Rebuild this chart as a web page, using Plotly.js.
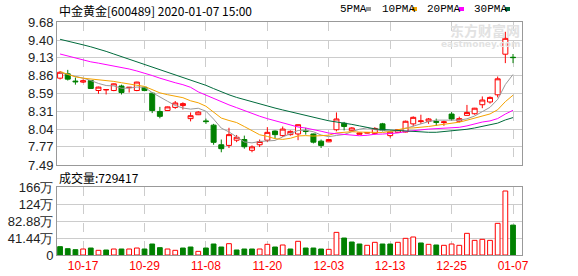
<!DOCTYPE html>
<html>
<head>
<meta charset="utf-8">
<script src="https://cdn.plot.ly/plotly-3.0.1.min.js"></script>
<style>html,body{margin:0;padding:0;background:#fff;}#chart{width:578px;height:276px;}</style>
</head>
<body>
<div id="chart"></div>
<script>
// ---- data ----
const dates = ["10-14","10-15","10-16","10-17","10-18","10-21","10-22","10-23","10-24","10-25",
"10-28","10-29","10-30","10-31","11-01","11-04","11-05","11-06","11-07","11-08",
"11-11","11-12","11-13","11-14","11-15","11-18","11-19","11-20","11-21","11-22",
"11-25","11-26","11-27","11-28","11-29","12-03","12-04","12-05","12-06","12-09",
"12-10","12-11","12-12","12-13","12-16","12-17","12-18","12-19","12-20","12-23",
"12-24","12-25","12-26","12-27","12-30","12-31","01-02","01-03","01-06","01-07"];
const tickDates = ["10-17","10-29","11-08","11-20","12-03","12-13","12-25","01-07"];

const open = [8.82,8.886,8.775,8.76,8.784,8.631,8.64,8.631,8.70,8.675,
8.631,8.68,8.59,8.31,8.325,8.372,8.40,8.20,8.26,8.165,
8.10,7.80,7.79,7.87,7.88,7.715,7.80,7.87,8.01,7.94,
7.955,7.965,8.015,7.965,7.855,7.845,8.03,8.13,8.015,7.96,
7.98,7.975,8.12,7.94,7.99,7.995,8.12,8.155,8.16,8.155,
8.14,8.27,8.16,8.25,8.275,8.413,8.455,8.565,9.187,9.14];
const high = [8.93,8.947,8.83,8.80,8.79,8.69,8.645,8.74,8.72,8.685,
8.765,8.69,8.60,8.38,8.385,8.47,8.45,8.295,8.315,8.20,
8.12,7.88,8.06,7.95,7.94,7.79,7.88,8.07,8.02,8.08,
8.02,8.11,8.06,7.97,7.88,7.885,8.295,8.15,8.07,7.985,
7.99,8.07,8.135,8.005,8.04,8.17,8.235,8.26,8.21,8.20,
8.17,8.30,8.23,8.41,8.365,8.54,8.54,8.845,9.53,9.19];
const low = [8.80,8.784,8.72,8.745,8.66,8.58,8.57,8.62,8.57,8.60,
8.62,8.62,8.285,8.205,8.32,8.35,8.34,8.158,8.255,8.12,
7.80,7.685,7.75,7.84,7.74,7.685,7.765,7.84,7.89,7.92,
7.94,7.87,7.955,7.82,7.75,7.84,8.005,8.02,8.01,7.955,
7.975,7.955,8.005,7.91,7.985,7.99,8.08,8.12,8.12,8.09,
8.09,8.17,8.14,8.25,8.26,8.36,8.43,8.525,9.05,9.05];
const close = [8.91,8.805,8.765,8.78,8.662,8.683,8.645,8.733,8.60,8.68,
8.76,8.63,8.325,8.235,8.38,8.44,8.43,8.245,8.30,8.155,
7.837,7.74,7.955,7.915,7.77,7.767,7.85,7.99,7.955,8.04,
8.005,8.107,8.005,7.84,7.79,7.88,8.195,8.08,8.057,7.98,
7.985,8.05,8.02,7.995,8.03,8.16,8.22,8.165,8.195,8.145,
8.15,8.195,8.20,8.295,8.36,8.485,8.525,8.81,9.43,9.135];

const ma5 = [8.905,8.88,8.85,8.82,8.784,8.739,8.707,8.701,8.665,8.668,
8.684,8.681,8.599,8.526,8.466,8.402,8.362,8.346,8.359,8.314,
8.193,8.055,7.997,7.920,7.843,7.829,7.851,7.858,7.866,7.920,
7.968,8.019,8.022,7.999,7.949,7.924,7.942,7.957,8.000,8.038,
8.059,8.030,8.018,8.006,8.016,8.051,8.085,8.114,8.154,8.177,
8.175,8.170,8.177,8.197,8.240,8.307,8.373,8.495,8.722,8.877];
const ma10 = [8.92,8.88,8.84,8.82,8.81,8.80,8.79,8.77,8.75,8.726,
8.711,8.694,8.650,8.595,8.567,8.543,8.521,8.473,8.443,8.390,
8.298,8.209,8.172,8.140,8.079,8.011,7.953,7.928,7.893,7.882,
7.899,7.935,7.940,7.933,7.935,7.946,7.981,7.990,8.000,7.994,
7.992,7.986,7.988,8.003,8.027,8.055,8.058,8.066,8.080,8.097,
8.113,8.128,8.146,8.176,8.209,8.241,8.272,8.336,8.460,8.559];
const ma20 = [9.19,9.16,9.125,9.10,9.07,9.05,9.03,9.01,8.99,8.96,
8.93,8.90,8.86,8.82,8.78,8.75,8.72,8.68,8.61,8.558,
8.505,8.451,8.411,8.368,8.323,8.277,8.237,8.200,8.168,8.136,
8.098,8.072,8.056,8.036,8.007,7.979,7.967,7.959,7.947,7.938,
7.945,7.961,7.964,7.968,7.981,8.001,8.019,8.028,8.040,8.045,
8.052,8.057,8.067,8.089,8.118,8.148,8.165,8.201,8.270,8.328];
const ma30 = [9.415,9.39,9.36,9.33,9.30,9.27,9.23,9.19,9.15,9.11,
9.07,9.03,8.99,8.95,8.92,8.88,8.84,8.80,8.76,8.71,
8.66,8.61,8.565,8.525,8.49,8.455,8.425,8.395,8.362,8.333,
8.303,8.279,8.254,8.223,8.194,8.167,8.152,8.130,8.112,8.089,
8.063,8.043,8.033,8.025,8.014,8.004,7.997,7.995,7.991,7.991,
8.001,8.016,8.025,8.037,8.057,8.081,8.103,8.131,8.180,8.216];

// volume in 万 (10k lots)
const volume = [20.3,15.4,13,14.6,17,11.4,12.2,14.6,14.6,14.6,
17,14.6,26.8,17.9,14.6,11.4,17,19.5,8.9,17,
26.8,19.5,27.6,12.2,14.6,14.6,14.6,26,19.5,24.4,
14.6,33.4,17,17,14.6,13.8,55.2,41.4,31.7,26.8,
23.6,30.9,26.8,26.8,30.9,40.6,43.9,29.3,26,24.4,
23.6,26.8,23.6,52.8,35.7,38.2,35.7,77.2,156,72.94];
const volUp = [0,0,0,1,0,1,0,1,0,1,
1,0,0,0,1,1,0,0,1,0,
0,0,1,0,0,0,1,1,0,1,
0,1,0,0,0,1,1,0,0,0,
1,1,0,0,1,1,1,0,1,0,
1,1,1,1,1,1,1,1,1,0];

const priceTicks = [7.49,7.77,8.04,8.31,8.59,8.86,9.13,9.40,9.68];
const volTicks = [0,41.44,82.88,124.32,165.76];
const volTickText = ["0","41.44万","82.88万","124万","166万"];
const lastVolume = "729417";

// ---- styling ----
const RED = "#ff0000", GREEN = "#008000";
const W = 578, H = 276, ML = 57, MR = 56, MT = 22, MB = 21;
const PW = W - ML - MR, PH = H - MT - MB;
const px = v => (v - ML) / PW;          // pixel x -> paper x
const py = v => (H - MB - v) / PH;      // pixel y -> paper y

const traces = [
  {type:"candlestick", x:dates, open:open, high:high, low:low, close:close,
   xaxis:"x", yaxis:"y", whiskerwidth:0, hoverinfo:"skip",
   increasing:{line:{color:RED,width:1}, fillcolor:"#ffffff"},
   decreasing:{line:{color:GREEN,width:1}, fillcolor:GREEN}},
  {type:"scatter", mode:"lines", x:dates, y:ma5, xaxis:"x", yaxis:"y", line:{color:"#999999",width:1}, hoverinfo:"skip"},
  {type:"scatter", mode:"lines", x:dates, y:ma10, xaxis:"x", yaxis:"y", line:{color:"#f5a300",width:1}, hoverinfo:"skip"},
  {type:"scatter", mode:"lines", x:dates, y:ma20, xaxis:"x", yaxis:"y", line:{color:"#ff00ff",width:1}, hoverinfo:"skip"},
  {type:"scatter", mode:"lines", x:dates, y:ma30, xaxis:"x", yaxis:"y", line:{color:"#006b3c",width:1}, hoverinfo:"skip"},
  {type:"bar", x:dates, y:volume, xaxis:"x2", yaxis:"y2", width:0.62, hoverinfo:"skip",
   marker:{color:volUp.map(u => u ? "#ffffff" : GREEN), line:{color:volUp.map(u => u ? RED : GREEN), width:1}}}
];

const xCommon = {
  type:"category", range:[-0.4, 60.17], tickmode:"array", tickvals:tickDates, ticktext:tickDates,
  showgrid:true, gridcolor:"#cccccc", griddash:"dash", gridwidth:1,
  showline:true, linecolor:"#999999", linewidth:1, mirror:true, ticks:"", zeroline:false, fixedrange:true
};
const yCommon = {
  showgrid:true, gridcolor:"#cccccc", gridwidth:1, showline:true, linecolor:"#999999", linewidth:1,
  mirror:true, ticks:"", zeroline:false, fixedrange:true,
  tickfont:{family:"Liberation Sans, Arial, sans-serif", size:13, color:"#222222"}
};

const legendItems = [
  {label:"5PMA", left:338, sq:366, color:"#999999"},
  {label:"10PMA", left:380, sq:412, color:"#f5a300"},
  {label:"20PMA", left:425, sq:459, color:"#ff00ff"},
  {label:"30PMA", left:472, sq:505, color:"#006b3c"}
];

const annotations = [
  {xref:"paper", yref:"paper", x:px(57), y:py(10), xanchor:"left", yanchor:"middle", showarrow:false,
   text:"中金黄金[600489] 2020-01-07 15:00", font:{family:"Noto Sans CJK SC", size:12, color:"#000"}},
  {xref:"paper", yref:"paper", x:px(57), y:py(177), xanchor:"left", yanchor:"middle", showarrow:false,
   text:"成交量:" + lastVolume, font:{family:"Noto Sans CJK SC", size:12, color:"#000"}},
  {xref:"paper", yref:"paper", x:px(521), y:py(30), xanchor:"right", yanchor:"middle", showarrow:false, borderpad:0,
   text:"<b>东方财富网</b>", font:{family:"Noto Sans CJK SC", size:14, color:"#e2e2e2"}},
  {xref:"paper", yref:"paper", x:px(521), y:py(44), xanchor:"right", yanchor:"middle", showarrow:false, borderpad:0,
   text:"<b>eastmoney.com</b>", font:{family:"DejaVu Sans", size:9, color:"#e2e2e2"}}
];
const shapes = [];
legendItems.forEach(it => {
  annotations.push({xref:"paper", yref:"paper", x:px(it.left), y:py(8.5), xanchor:"left", yanchor:"middle",
    showarrow:false, text:it.label, font:{family:"Liberation Mono, monospace", size:11, color:"#000"}});
  shapes.push({type:"rect", xref:"paper", yref:"paper", x0:px(it.sq), x1:px(it.sq+5), y0:py(11), y1:py(7),
    fillcolor:it.color, line:{width:0}});
});

const layout = {
  width:W, height:H, margin:{l:ML, r:MR, t:MT, b:MB, pad:0},
  paper_bgcolor:"#ffffff", plot_bgcolor:"#ffffff", showlegend:false, hovermode:false,
  boxgap:0.35, boxgroupgap:0,
  xaxis:Object.assign({}, xCommon, {anchor:"y", showticklabels:false, rangeslider:{visible:false}}),
  xaxis2:Object.assign({}, xCommon, {anchor:"y2", showticklabels:true,
    tickfont:{family:"Liberation Sans, Arial, sans-serif", size:12, color:RED}}),
  yaxis:Object.assign({}, yCommon, {domain:[py(165), 1], range:[7.49, 9.68], tickmode:"array",
    tickvals:priceTicks, ticktext:priceTicks.map(v => v.toFixed(2))}),
  yaxis2:Object.assign({}, yCommon, {domain:[0, py(187)], range:[0, 165.76], tickmode:"array",
    tickvals:volTicks, ticktext:volTickText}),
  annotations:annotations, shapes:shapes
};

Plotly.newPlot("chart", traces, layout, {displayModeBar:false, staticPlot:true});
</script>
</body>
</html>
